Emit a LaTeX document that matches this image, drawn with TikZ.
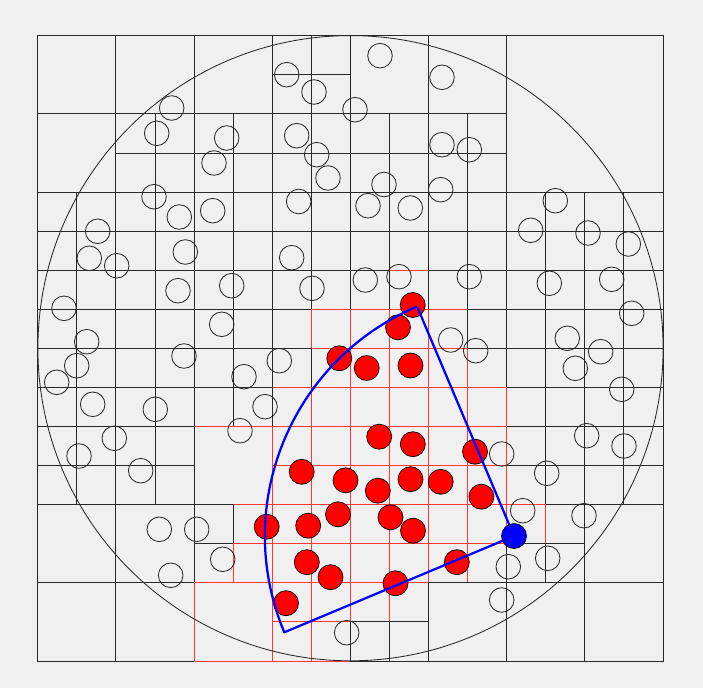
\documentclass[tikz,border=0pt]{standalone}
\usepackage{xcolor}
\usepackage{tikz}
\usetikzlibrary{calc}

\definecolor{bggray}{RGB}{240,240,240}
\definecolor{hitred}{RGB}{255,55,55}
\definecolor{gridgray}{RGB}{40,40,40}

\begin{document}
\begin{tikzpicture}[
    x=0.025cm, y=-0.025cm,
    quad/.style={draw=gridgray, line width=0.6pt},
    hit/.style={draw=hitred, line width=0.6pt},
    obj/.style={draw=gridgray, line width=0.6pt},
    sel/.style={draw=black, fill=red, line width=0.5pt},
    fov/.style={draw=blue, line width=1.6pt, line join=round},
    robot/.style={draw=black, fill=blue, line width=0.5pt}
]
% Background
\fill[bggray] (0,0) rectangle (703,688);
\useasboundingbox (0,0) rectangle (703,688);

% Quadtree cells (traversal order, later cells overdraw shared edges)
\begin{scope}[shift={(37.7,35.7)}, scale=39.08]
\foreach \i/\j/\s/\st in {
    % upper right quadrant
    12/0/4/quad,
    10/0/2/quad, 8/0/2/quad,
    9/2/1/quad, 8/2/1/quad, 8/3/1/quad, 9/3/1/quad,
    11/2/1/quad, 10/2/1/quad, 10/3/1/quad, 11/3/1/quad,
    11/4/1/quad, 10/4/1/quad, 10/5/1/quad, 11/5/1/quad,
    9/4/1/quad, 8/4/1/quad, 8/5/1/quad, 9/5/1/quad,
    9/6/1/hit, 8/6/1/quad, 8/7/1/hit, 9/7/1/hit,
    11/6/1/quad, 10/6/1/quad, 10/7/1/hit, 11/7/1/quad,
    15/4/1/quad, 14/4/1/quad, 14/5/1/quad, 15/5/1/quad,
    13/4/1/quad, 12/4/1/quad, 12/5/1/quad, 13/5/1/quad,
    13/6/1/quad, 12/6/1/quad, 12/7/1/quad, 13/7/1/quad,
    15/6/1/quad, 14/6/1/quad, 14/7/1/quad, 15/7/1/quad,
    % upper left quadrant
    7/0/1/quad, 6/0/1/quad, 6/1/1/quad, 7/1/1/quad,
    4/0/2/quad,
    5/2/1/quad, 4/2/1/quad, 4/3/1/quad, 5/3/1/quad,
    7/2/1/quad, 6/2/1/quad, 6/3/1/quad, 7/3/1/quad,
    2/0/2/quad, 0/0/2/quad, 0/2/2/quad,
    3/2/1/quad, 2/2/1/quad, 2/3/1/quad, 3/3/1/quad,
    3/4/1/quad, 2/4/1/quad, 2/5/1/quad, 3/5/1/quad,
    1/4/1/quad, 0/4/1/quad, 0/5/1/quad, 1/5/1/quad,
    1/6/1/quad, 0/6/1/quad, 0/7/1/quad, 1/7/1/quad,
    3/6/1/quad, 2/6/1/quad, 2/7/1/quad, 3/7/1/quad,
    7/4/1/quad, 6/4/1/quad, 6/5/1/quad, 7/5/1/quad,
    5/4/1/quad, 4/4/1/quad, 4/5/1/quad, 5/5/1/quad,
    5/6/1/quad, 4/6/1/quad, 4/7/1/quad, 5/7/1/quad,
    7/6/1/quad, 6/6/1/quad, 6/7/1/quad, 7/7/1/hit,
    % lower left quadrant
    7/8/1/hit, 6/8/1/quad, 6/9/1/hit, 7/9/1/hit,
    5/8/1/quad, 4/8/1/quad, 4/9/1/quad, 5/9/1/quad,
    4/10/2/hit,
    7/10/1/hit, 6/10/1/hit, 6/11/1/hit, 7/11/1/hit,
    3/8/1/quad, 2/8/1/quad, 2/9/1/quad, 3/9/1/quad,
    1/8/1/quad, 0/8/1/quad, 0/9/1/quad, 1/9/1/quad,
    1/10/1/quad, 0/10/1/quad, 0/11/1/quad, 1/11/1/quad,
    3/10/1/quad, 2/10/1/quad, 2/11/1/quad, 3/11/1/quad,
    2/12/2/quad, 0/12/2/quad, 0/14/2/quad, 2/14/2/quad,
    7/12/1/hit, 6/12/1/hit, 6/13/1/hit, 7/13/1/hit,
    5/12/1/hit, 4/12/1/quad, 4/13/1/quad, 5/13/1/hit,
    4/14/2/hit,
    7/14/1/hit, 6/14/1/hit, 6/15/1/hit, 7/15/1/hit,
    % lower right quadrant
    15/8/1/quad, 14/8/1/quad, 14/9/1/quad, 15/9/1/quad,
    13/8/1/quad, 12/8/1/quad, 12/9/1/quad, 13/9/1/quad,
    13/10/1/quad, 12/10/1/quad, 12/11/1/quad, 13/11/1/quad,
    15/10/1/quad, 14/10/1/quad, 14/11/1/quad, 15/11/1/quad,
    11/8/1/quad, 10/8/1/hit, 10/9/1/hit, 11/9/1/hit,
    9/8/1/hit, 8/8/1/hit, 8/9/1/hit, 9/9/1/hit,
    9/10/1/hit, 8/10/1/hit, 8/11/1/hit, 9/11/1/hit,
    11/10/1/hit, 10/10/1/hit, 10/11/1/hit, 11/11/1/hit,
    11/12/1/hit, 10/12/1/hit, 10/13/1/hit, 11/13/1/hit,
    9/12/1/hit, 8/12/1/hit, 8/13/1/hit, 9/13/1/hit,
    9/14/1/hit, 8/14/1/hit, 8/15/1/quad, 9/15/1/quad,
    10/14/2/quad,
    14/12/2/quad,
    13/12/1/quad, 12/12/1/hit, 12/13/1/quad, 13/13/1/quad,
    12/14/2/quad, 14/14/2/quad}
    \draw[\st] (\i,\j) rectangle ++(\s,\s);
\end{scope}

% Range circle
\draw[obj] (350.5,348.2) circle[radius=312.6];

% Objects outside the view
\foreach \x/\y in {
    380/55.7, 286.7/74.7, 314/92, 442/77.3, 171.7/108, 355/109.7,
    156.7/133.3, 226.7/138, 296.7/135.7, 442/144.7, 469.3/149.7,
    316.7/154.7, 214/163, 328/178, 384/184.5, 440.7/189.7,
    154/196.7, 298.7/201.5, 368/205.7, 410.3/208, 179.3/217, 212.7/210.7,
    555.3/200.7, 530.7/230.3, 588/233, 628.3/244,
    97.7/231.3, 89.3/258.3, 116.7/265.7, 185.3/252, 291.7/257.7,
    611.7/279.3, 549.3/283.3, 469.3/276.7, 399/276.7, 365.3/280,
    178/290.7, 231.7/285.7, 312/288.3, 64/308.3, 631.7/313.3,
    86.7/341.7, 221.7/324.3, 450.7/340, 475.7/350.7, 567.3/338.3, 600.7/351.7,
    76.7/365.7, 56.7/382.3, 184/356, 279.3/360.7, 244/376.7, 575.3/368.3,
    621.7/389.3, 92.7/404.3, 155.3/409.3, 265/406.7,
    114.3/438.3, 240/430.7, 586.7/435.7, 624/446,
    79/456, 140.7/470.7, 501.7/454, 546.7/473.3,
    159.3/529.3, 196.7/529.3, 222.7/559.3, 522.7/510.7, 584/515.7,
    547.7/558.3, 508.3/566.7, 170.7/575.3, 501.7/600, 346.7/632.7}
    \draw[obj] (\x,\y) circle[radius=12.3];

% Objects inside the view
\foreach \x/\y in {
    412.7/305, 398/327.3, 339.3/358.3, 366.7/368, 410.5/365.5,
    379.2/436.7, 412.8/444.2, 475/451.7,
    301.7/471.8, 345.5/480.3, 410.5/479.2, 440.7/481.8, 377.8/490.7, 481.4/496.7,
    266.7/526.7, 308.2/525.7, 338/514.3, 390.5/517.3, 413/530.7,
    306.8/562.2, 330.5/577.2, 395.5/583.3, 456.8/562.2, 286/603.2}
    \draw[sel] (\x,\y) circle[radius=12.5];

% View sector
\coordinate (robot) at (514,536);
\coordinate (fovtop) at (417.5,307.5);
\coordinate (fovbot) at (284.3,632.3);
\draw[fov] (fovtop) -- (robot) -- (fovbot) arc[start angle=157.25, end angle=247.1, radius=249];
\path[robot] (robot) circle[radius=12.5];

\end{tikzpicture}
\end{document}
